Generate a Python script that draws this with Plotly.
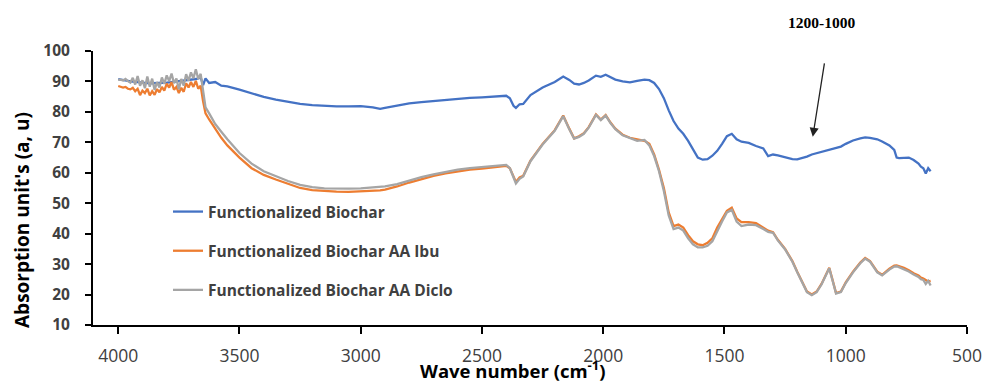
import plotly.graph_objects as go

# ---- data ----
wavenumber = [4000, 3990, 3980, 3970, 3960, 3950, 3940, 3930, 3920, 3910, 3900, 3890, 3880, 3870, 3860,
              3850, 3840, 3830, 3820, 3810, 3800, 3790, 3780, 3770, 3760, 3750, 3740, 3730, 3720, 3710,
              3700, 3690, 3680, 3670, 3660, 3650, 3640,
              3625, 3600, 3575, 3550, 3500, 3450, 3400, 3350, 3300, 3250, 3200,
              3150, 3100, 3050, 3000, 2950, 2920, 2900, 2850, 2800, 2750, 2700, 2650, 2600, 2550, 2500,
              2450, 2400, 2385, 2370, 2360, 2345, 2330, 2300, 2250, 2200, 2165, 2140, 2120, 2100, 2080,
              2060, 2030, 2010, 1990, 1970, 1950, 1920, 1890, 1860, 1830, 1810, 1790, 1770, 1750, 1730,
              1710, 1690, 1670, 1650, 1630, 1610, 1590, 1570, 1550, 1530, 1510, 1490, 1470, 1450, 1430,
              1400, 1370, 1340, 1320, 1300, 1280, 1250, 1220, 1200, 1180, 1160, 1140, 1120, 1100, 1080,
              1068, 1055, 1040, 1020, 1000, 970, 940, 920, 900, 870, 850, 820, 800, 790, 780,
              760, 740, 720, 700, 690, 680, 670, 660, 650]

biochar = [90.8, 90.7, 90.5, 90.3, 90.2, 90.0, 89.9, 89.8, 89.7, 89.6, 89.6, 89.5, 89.5, 89.4, 89.4,
           89.4, 89.4, 89.5, 89.5, 89.6, 89.6, 89.7, 89.8, 89.9, 89.9, 90.0, 90.0, 90.2, 90.3, 90.4,
           90.5, 90.6, 90.8, 91.0, 91.3, 88.8, 91.0,
           89.5, 89.8, 88.6, 88.4, 87.3, 86.0, 84.9, 84.0, 83.2, 82.6, 82.2,
           81.9, 81.8, 81.8, 81.9, 81.5, 81.0, 81.3, 82.1, 82.8, 83.2, 83.6, 84.0, 84.3, 84.6, 84.8,
           85.0, 85.3, 84.5, 82.0, 81.3, 82.5, 82.6, 85.5, 88.0, 89.8, 91.6, 90.5, 89.3, 89.0, 89.5,
           90.3, 91.9, 91.5, 92.2, 91.5, 90.6, 90.0, 89.7, 90.2, 90.6, 90.4, 89.5, 87.5, 84.5, 80.5,
           77.0, 74.5, 72.8, 70.5, 67.5, 65.0, 64.3, 64.5, 65.6, 67.2, 69.5, 72.0, 72.8, 71.0, 70.2,
           69.8, 68.8, 68.0, 65.5, 66.0, 65.7, 65.0, 64.5, 64.4, 64.8, 65.3, 66.0, 66.4, 66.8, 67.2,
           67.4, 67.7, 68.0, 68.6, 69.5, 70.6, 71.3, 71.6, 71.5, 71.0, 70.3, 69.0, 67.5, 65.0, 64.8,
           64.9, 65.0, 64.2, 63.0, 62.0, 61.5, 59.8, 61.5, 60.5]

biochar_ibu = [88.5, 88.3, 88.0, 88.2, 87.6, 87.4, 87.9, 86.8, 87.6, 85.5, 87.0, 86.2, 87.6, 85.4, 86.8,
               85.6, 87.5, 86.4, 88.2, 87.0, 89.3, 88.0, 89.8, 87.3, 88.2, 86.2, 87.9, 86.6, 89.4, 88.0,
               89.8, 88.2, 90.2, 87.6, 88.6, 83.5, 79.5,
               77.5, 74.5, 71.5, 69.0, 65.0, 61.5, 59.3, 57.8, 56.3, 55.0, 54.3,
               54.0, 53.8, 53.7, 53.8, 54.0, 54.2, 54.5, 55.5, 56.8, 58.0, 59.0, 59.8, 60.5, 61.0, 61.4,
               61.8, 62.3, 61.5, 58.5, 57.0, 58.5, 59.0, 64.0, 69.5, 74.0, 78.8, 74.5, 71.3, 72.0, 73.0,
               75.0, 79.2, 77.5, 79.0, 76.5, 74.5, 72.5, 71.5, 71.0, 70.5, 69.5, 66.0, 61.0, 55.0, 47.0,
               42.5, 43.0, 42.0, 39.5, 37.5, 36.5, 36.2, 37.0, 38.5, 42.0, 45.0, 47.5, 48.5, 45.0, 43.8,
               43.8, 43.5, 42.0, 41.0, 40.5, 38.0, 35.0, 31.0, 27.5, 24.0, 21.0, 20.0, 21.0, 23.5, 26.5,
               28.8, 25.0, 20.5, 21.0, 24.0, 27.5, 30.5, 32.0, 31.0, 27.5, 26.5, 28.5, 29.5, 29.6, 29.4,
               28.8, 28.0, 27.0, 26.3, 25.6, 25.3, 24.8, 24.3, 24.5]

biochar_diclo = [90.5, 90.6, 90.3, 90.8, 90.1, 89.6, 91.2, 89.0, 91.8, 88.6, 90.4, 87.8, 91.6, 88.3, 90.9,
                 87.2, 89.8, 88.0, 91.3, 89.2, 92.0, 90.1, 92.6, 89.4, 91.0, 87.4, 90.8, 88.6, 92.4, 90.2,
                 93.0, 91.0, 94.0, 90.8, 92.5, 86.5, 81.5,
                 79.5, 76.0, 73.5, 71.0, 66.5, 63.0, 60.5, 58.8, 57.3, 56.0, 55.3,
                 54.9, 54.8, 54.8, 54.9, 55.2, 55.3, 55.5, 56.3, 57.5, 58.6, 59.5, 60.3, 61.0, 61.5, 61.9,
                 62.2, 62.6, 61.5, 58.5, 56.5, 58.0, 58.8, 63.8, 69.3, 73.8, 78.6, 74.3, 71.2, 71.8, 72.8,
                 74.8, 79.0, 77.3, 78.8, 76.3, 74.3, 72.3, 71.3, 70.5, 70.8, 69.0, 65.5, 60.5, 54.0, 46.0,
                 41.5, 42.0, 41.0, 38.5, 36.5, 35.5, 35.5, 36.0, 37.5, 41.0, 44.0, 47.0, 47.8, 44.0, 42.5,
                 43.0, 42.8, 41.5, 40.6, 40.3, 37.8, 34.8, 30.8, 27.3, 23.8, 20.8, 19.8, 20.8, 23.3, 26.3,
                 28.6, 24.8, 20.3, 20.8, 23.8, 27.3, 30.3, 31.8, 30.8, 27.3, 26.3, 28.2, 29.2, 29.3, 29.0,
                 28.4, 27.6, 26.6, 25.8, 25.0, 24.8, 23.5, 24.5, 23.0]

series_names = ["Functionalized Biochar", "Functionalized Biochar AA Ibu", "Functionalized Biochar AA Diclo"]
series_colors = ["#4472C4", "#ED7D31", "#A5A5A5"]
x_ticks = [4000, 3500, 3000, 2500, 2000, 1500, 1000, 500]
y_ticks = [10, 20, 30, 40, 50, 60, 70, 80, 90, 100]
x_range = [4104, 500]
y_range = [10, 100]

FONT = "Open Sans"

fig = go.Figure()
for i, (name, vals, col) in enumerate(zip(series_names, [biochar, biochar_ibu, biochar_diclo], series_colors)):
    fig.add_trace(go.Scatter(x=wavenumber, y=vals, mode="lines", name=name,
                             legendgroup=f"g{i}",
                             line=dict(color=col, width=2.3)))

fig.update_layout(
    width=984, height=383,
    margin=dict(l=93, r=17, t=51, b=58, autoexpand=False),
    paper_bgcolor="white", plot_bgcolor="white",
    showlegend=True,
    legend=dict(x=(168 - 93) / 874, y=1 - (195 - 51) / 274, xanchor="left", yanchor="top",
                bgcolor="rgba(0,0,0,0)", tracegroupgap=16,
                font=dict(family=FONT, size=15.5, color="#404040", weight="bold")),
    xaxis=dict(range=x_range, tickvals=x_ticks, ticks="outside", ticklen=7, tickwidth=1.5,
               tickcolor="black", showline=True, linecolor="black", linewidth=2,
               showgrid=False, zeroline=False, ticklabelstandoff=7, automargin=False,
               tickfont=dict(family=FONT, size=17.5, color="#404040")),
    yaxis=dict(range=y_range, tickvals=y_ticks, ticks="outside", ticklen=6, tickwidth=1.5,
               tickcolor="black", showline=True, linecolor="black", linewidth=2,
               showgrid=False, zeroline=False, ticklabelstandoff=12, automargin=False,
               tickfont=dict(family=FONT, size=15.5, color="#404040", weight="bold")),
    xaxis2=dict(range=x_range, tickvals=x_ticks, overlaying="x", anchor="y", side="bottom",
                ticks="inside", ticklen=7, tickwidth=1.5, tickcolor="black", automargin=False,
                showticklabels=False, showline=False, showgrid=False, zeroline=False),
    yaxis2=dict(range=y_range, tickvals=y_ticks, overlaying="y", anchor="x", side="left",
                ticks="inside", ticklen=6, tickwidth=1.5, tickcolor="black", automargin=False,
                showticklabels=False, showline=False, showgrid=False, zeroline=False),
)

fig.add_annotation(text="Wave number (cm<sup>-1</sup>)", xref="paper", yref="paper",
                   x=(512 - 93) / 874, y=-(369 - 325) / 274, xanchor="center", yanchor="middle",
                   showarrow=False, font=dict(family=FONT, size=18.5, color="black", weight="bold"))
fig.add_annotation(text="Absorption unit's (a, u)", xref="paper", yref="paper",
                   x=-(93 - 22) / 874, y=1 - (220 - 51) / 274, xanchor="center", yanchor="middle",
                   textangle=-90, showarrow=False,
                   font=dict(family=FONT, size=19, color="black", weight="bold"))
fig.add_annotation(text="1200-1000", xref="x", yref="paper", x=1100, y=1 + (51 - 23) / 274,
                   xanchor="center", yanchor="middle",
                   showarrow=False, font=dict(family="Liberation Serif", size=15.5, color="black", weight="bold"))
fig.add_annotation(text="", xref="x", yref="y", x=1136, y=71.8, axref="x", ayref="y",
                   ax=1087, ay=96.4, showarrow=True, arrowhead=2, arrowsize=1.4,
                   arrowwidth=1.3, arrowcolor="#222222")

fig.write_html("out.html", config={"displayModeBar": False},
               post_script="document.body.style.margin='0';document.body.style.padding='0';")
